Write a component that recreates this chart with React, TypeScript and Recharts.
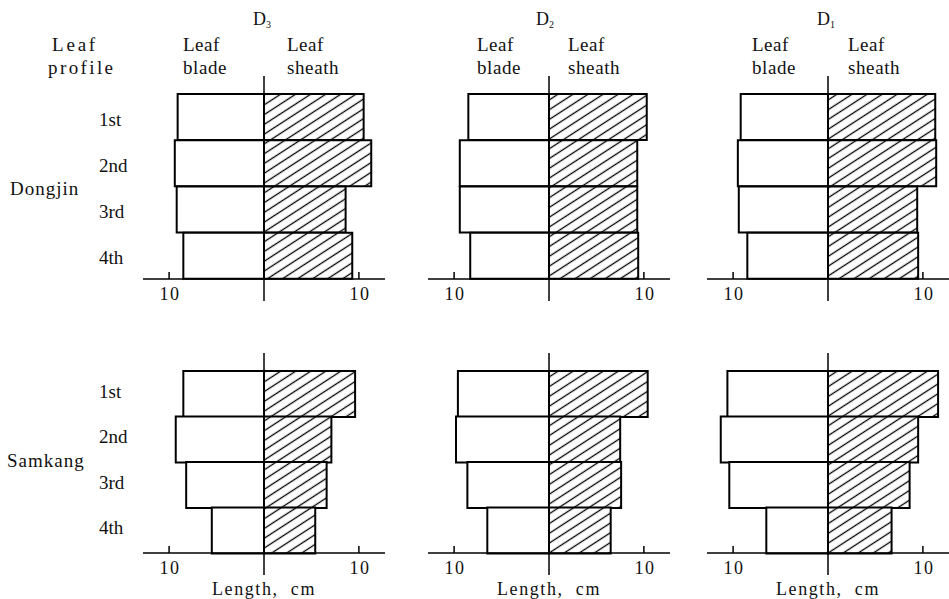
import React from 'react';
import { BarChart, Bar, XAxis, YAxis, ReferenceLine } from 'recharts';

// ---------- data ----------
const leafPositions = ['1st', '2nd', '3rd', '4th'];
const treatments = ['D3', 'D2', 'D1'];
const cultivars = ['Dongjin', 'Samkang'];
const axisTicks = [-10, 0, 10];

// leaf blade / leaf sheath length (cm), 1st..4th leaf
const dongjinD3Blade = [9.1, 9.4, 9.2, 8.5];
const dongjinD3Sheath = [10.5, 11.3, 8.6, 9.3];
const dongjinD2Blade = [8.5, 9.4, 9.4, 8.3];
const dongjinD2Sheath = [10.3, 9.3, 9.3, 9.4];
const dongjinD1Blade = [9.2, 9.5, 9.4, 8.5];
const dongjinD1Sheath = [11.3, 11.4, 9.4, 9.5];

const samkangD3Blade = [8.5, 9.3, 8.2, 5.5];
const samkangD3Sheath = [9.6, 7.1, 6.6, 5.4];
const samkangD2Blade = [9.6, 9.8, 8.6, 6.5];
const samkangD2Sheath = [10.4, 7.5, 7.6, 6.5];
const samkangD1Blade = [10.6, 11.3, 10.4, 6.5];
const samkangD1Sheath = [11.6, 9.5, 8.6, 6.7];

const panelSeries = [
  [
    [dongjinD3Blade, dongjinD3Sheath],
    [dongjinD2Blade, dongjinD2Sheath],
    [dongjinD1Blade, dongjinD1Sheath],
  ],
  [
    [samkangD3Blade, samkangD3Sheath],
    [samkangD2Blade, samkangD2Sheath],
    [samkangD1Blade, samkangD1Sheath],
  ],
];

const buildData = (blade: number[], sheath: number[]) =>
  leafPositions.map((leaf, i) => ({ leaf, blade: -blade[i], sheath: sheath[i] }));

// ---------- layout ----------
const FONT = 'Liberation Serif, Times New Roman, serif';
const PLOT_W = 242;
const DOMAIN: [number, number] = [-12.75, 12.75];
const colPlotLeft = [143, 428, 707];
const colDLabelX = [262, 545, 826];
const colBladeX = [183, 477, 752];
const colSheathX = [287, 568, 848];
const rowLayout = [
  { top: 76, plotH: 203, axisH: 30, labelDy: 8.5, groupY: 195, groupX: 10 },
  { top: 353, plotH: 200, axisH: 46, labelDy: 4, groupY: 467, groupX: 7 },
];
const Y_LABEL_X = 99;

const XTick = (props: any) => {
  const { x, y, payload } = props;
  const v = payload.value;
  if (v === 0) {
    return <line x1={x} y1={y} x2={x} y2={y + 22} stroke="#000" strokeWidth={1.5} />;
  }
  return (
    <g>
      <line x1={x} y1={y} x2={x} y2={y - 7} stroke="#000" strokeWidth={1.5} />
      <text x={x + 1} y={y + 21} textAnchor="middle" fontSize={18} style={{ fontFamily: FONT }} fill="#111" letterSpacing={1.5}>
        {Math.abs(v)}
      </text>
    </g>
  );
};

const makeYTick = (dy: number) => (props: any) => {
  const { y, payload } = props;
  return (
    <text x={Y_LABEL_X} y={y + dy} textAnchor="start" fontSize={19} style={{ fontFamily: FONT }} fill="#111">
      {payload.value}
    </text>
  );
};

const LengthLabel = (props: any) => {
  const vb = props.viewBox || {};
  return (
    <text
      x={vb.x + vb.width / 2}
      y={vb.y + vb.height - 4}
      textAnchor="middle"
      fontSize={18}
      fill="#111"
      letterSpacing={1.6}
      style={{ whiteSpace: 'pre', fontFamily: FONT }}
    >
      {'Length,  cm'}
    </text>
  );
};

function Panel({ row, col }: { row: number; col: number }) {
  const rl = rowLayout[row];
  const [blade, sheath] = panelSeries[row][col];
  const data = buildData(blade, sheath);
  const showY = col === 0;
  const left = showY ? 0 : colPlotLeft[col];
  const yW = showY ? colPlotLeft[0] : 0;
  const width = yW + PLOT_W;
  const height = rl.plotH + rl.axisH;
  const showLength = row === 1;
  return (
    <div style={{ position: 'absolute', left, top: rl.top, width, height }}>
      <BarChart
        width={width}
        height={height}
        data={data}
        layout="vertical"
        stackOffset="sign"
        barCategoryGap={0}
        barGap={0}
        margin={{ top: 0, right: 0, bottom: 0, left: 0 }}
      >
        <XAxis
          type="number"
          domain={DOMAIN}
          ticks={axisTicks}
          interval={0}
          allowDataOverflow
          tickSize={0}
          tickMargin={0}
          tickLine={false}
          axisLine={{ stroke: '#000', strokeWidth: 1.5 }}
          tick={<XTick />}
          height={rl.axisH}
          label={showLength ? <LengthLabel /> : undefined}
        />
        <YAxis
          type="category"
          dataKey="leaf"
          width={yW}
          hide={!showY}
          padding={{ top: 18, bottom: 0 }}
          axisLine={false}
          tickLine={false}
          tick={makeYTick(rl.labelDy)}
          interval={0}
        />
        <Bar dataKey="blade" stackId="a" fill="#fff" stroke="#000" strokeWidth={2} isAnimationActive={false} />
        <Bar dataKey="sheath" stackId="a" fill="url(#hatch)" stroke="#000" strokeWidth={2} isAnimationActive={false} />
        <ReferenceLine x={0} stroke="#000" strokeWidth={1.5} ifOverflow="visible" />
      </BarChart>
    </div>
  );
}

export default function App() {
  const textProps = { style: { fontFamily: FONT }, fill: '#111' };
  return (
    <div style={{ position: 'absolute', left: 0, top: 0, width: 949, height: 599, background: '#fff', overflow: 'hidden' }}>
      <svg width={949} height={599} style={{ position: 'absolute', left: 0, top: 0 }}>
        <defs>
          <pattern id="hatch" patternUnits="userSpaceOnUse" width={12} height={8.2} patternTransform="rotate(-33)">
            <rect width={12} height={8.2} fill="#fff" />
            <line x1={0} y1={4.1} x2={12} y2={4.1} stroke="#000" strokeWidth={1.3} />
          </pattern>
        </defs>
        {treatments.map((t, c) => (
          <text key={t} x={colDLabelX[c]} y={25} textAnchor="middle" fontSize={18} {...textProps}>
            <tspan>{t.charAt(0)}</tspan>
            <tspan fontSize={10} dy={3}>{t.slice(1)}</tspan>
          </text>
        ))}
        <text x={52} y={51} fontSize={19} letterSpacing={2.8} {...textProps}>Leaf</text>
        <text x={48} y={74} fontSize={19} letterSpacing={2.4} {...textProps}>profile</text>
        {treatments.map((t, c) => (
          <g key={'h' + t}>
            <text x={colBladeX[c]} y={51} fontSize={19} letterSpacing={0.5} {...textProps}>Leaf</text>
            <text x={colBladeX[c]} y={74} fontSize={19} letterSpacing={0.6} {...textProps}>blade</text>
            <text x={colSheathX[c]} y={51} fontSize={19} letterSpacing={0.5} {...textProps}>Leaf</text>
            <text x={colSheathX[c]} y={74} fontSize={19} letterSpacing={0.6} {...textProps}>sheath</text>
          </g>
        ))}
        {cultivars.map((cv, r) => (
          <text key={cv} x={rowLayout[r].groupX} y={rowLayout[r].groupY} fontSize={19} letterSpacing={1} {...textProps}>
            {cv}
          </text>
        ))}
      </svg>
      {rowLayout.map((_, r) =>
        treatments.map((_, c) => <Panel key={`${r}-${c}`} row={r} col={c} />)
      )}
    </div>
  );
}
